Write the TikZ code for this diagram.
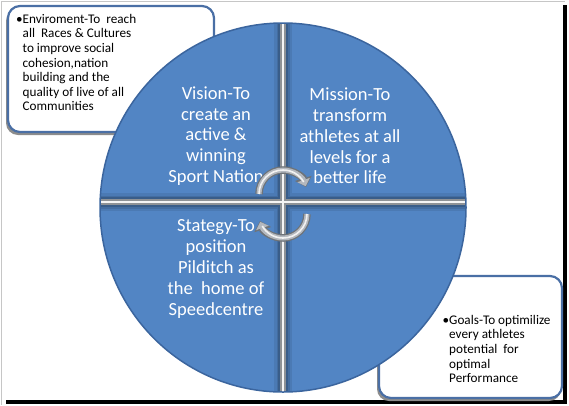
\documentclass[tikz,border=0pt]{standalone}
\usepackage{fontspec}
\setmainfont{Carlito}
\usetikzlibrary{arrows.meta}
\definecolor{quadblue}{HTML}{5285C4}
\definecolor{rimblue}{HTML}{3B659E}
\definecolor{boxblue}{HTML}{4A6FA5}
\definecolor{sepgray}{HTML}{8E9296}
\definecolor{steel}{HTML}{B4B8BE}
\definecolor{steeldark}{HTML}{6E7378}
\tikzset{
  quadtext/.style={text=white, font=\fontsize{18.5}{20.8}\selectfont, align=center, inner sep=0pt},
  notetext/.style={font=\fontsize{13.2}{14.6}\selectfont, align=left, inner sep=0pt, anchor=north west},
  notebox/.style={draw=boxblue, line width=2.2pt, fill=white, rounded corners=12pt},
  boxshadow/.style={fill=black!45, rounded corners=12pt},
  cycleedge/.style={line width=7.5pt, draw=steeldark, -{Triangle[width=17pt,length=9pt]}},
  cyclearrow/.style={line width=5pt, draw=steel, -{Triangle[width=13pt,length=6.5pt]}},
  cycleshine/.style={line width=1.6pt, draw=white!90!gray},
}
\begin{document}
\begin{tikzpicture}[x=1pt,y=-1pt]
    \useasboundingbox (0,0) rectangle (569,405);
    %frame
    \draw[gray!45, line width=1pt] (1,405) -- (1,1) -- (565,1);
    \fill[black] (563,5) rectangle (567,404);
    \fill[black] (6,400) rectangle (567,404);
    %notes behind the wheel
    \fill[boxshadow] (6,9) rectangle (212,135);
    \draw[notebox] (8,6) rectangle (214,132);
    \fill[boxshadow] (377,279) rectangle (561,401);
    \draw[notebox] (379,276) rectangle (562,398);
    \node[notetext] (env) at (22.5,14) {\llap{•}Enviroment-To~ reach\\all~ Races \& Cultures\\to improve social\\cohesion,nation\\building and the\\quality of live of all\\Communities};
    \node[notetext] (goals) at (449,315) {\llap{•}Goals-To optimilize\\every athletes\\potential~ for\\optimal\\Performance};
    %wheel
    \begin{scope}
        \clip (283,207.5) ellipse (183 and 184.5);
        \fill[quadblue] (0,0) rectangle (569,405);
        \foreach \w/\c in {18/92,13/82,10/70} {
            \draw[line width=\w pt, quadblue!\c!black] (283,0) -- (283,405);
            \draw[line width=\w pt, quadblue!\c!black] (0,202) -- (569,202);
        }
        \draw[line width=6pt, sepgray] (283,0) -- (283,405);
        \draw[line width=6pt, sepgray] (0,202) -- (569,202);
        \draw[line width=1.6pt, white!92!gray] (283,0) -- (283,405);
        \draw[line width=1.6pt, white!92!gray] (0,202) -- (569,202);
    \end{scope}
    \draw[rimblue, line width=1.5pt] (283,207.5) ellipse (183 and 184.5);
    \node[quadtext] (vision) at (216,136) {Vision-To\\create an\\active \&\\winning\\Sport Nation};
    \node[quadtext] (mission) at (350,136) {Mission-To\\transform\\athletes at all\\levels for a\\better life};
    \node[quadtext] (strategy) at (216,269) {Stategy-To\\position\\Pilditch as\\the~ home of\\Speedcentre};
    %cycle arrows
    \draw[cycleedge] (259,194) arc[start angle=180, end angle=343, radius=24];
    \draw[cyclearrow] (259,194) arc[start angle=180, end angle=341, radius=24];
    \draw[cycleshine] (259,194) arc[start angle=180, end angle=330, radius=24];
    \draw[cycleedge] (307,214) arc[start angle=0, end angle=163, radius=24];
    \draw[cyclearrow] (307,214) arc[start angle=0, end angle=161, radius=24];
    \draw[cycleshine] (307,214) arc[start angle=0, end angle=150, radius=24];
\end{tikzpicture}
\end{document}
